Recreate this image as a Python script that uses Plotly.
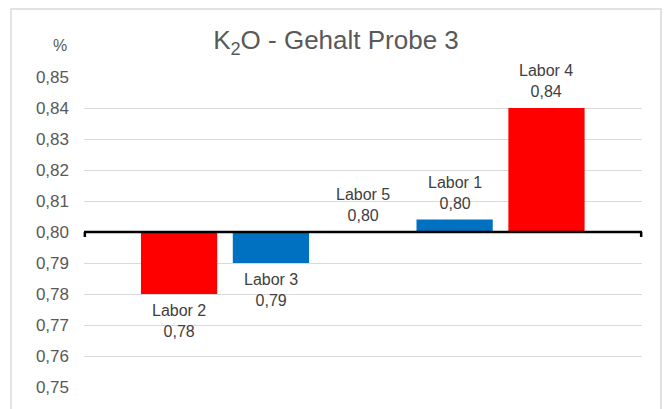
import plotly.graph_objects as go

labs = ["Labor 2", "Labor 3", "Labor 5", "Labor 1", "Labor 4"]
values = [0.78, 0.79, 0.80, 0.804, 0.84]
bar_colors = ["#FF0000", "#0070C0", "#0070C0", "#0070C0", "#FF0000"]
reference = 0.80
y_ticks = [0.75, 0.76, 0.77, 0.78, 0.79, 0.80, 0.81, 0.82, 0.83, 0.84, 0.85]

FONT = "Liberation Sans, Arial, sans-serif"
W, H = 664, 409

fig = go.Figure()
fig.add_trace(go.Bar(
    x=labs,
    y=[v - reference for v in values],
    base=reference,
    marker=dict(color=bar_colors, line=dict(width=0)),
    width=0.83,
    hoverinfo="skip",
))

annotations = []
for lab, v in zip(labs, values):
    txt = f"{lab}<br>{v:.2f}".replace(".", ",")
    above = v >= reference
    annotations.append(dict(x=lab, y=v, xref="x", yref="y", text=txt, showarrow=False,
                            yanchor="bottom" if above else "top",
                            yshift=6 if above else -6, align="center",
                            font=dict(family=FONT, size=16, color="#404040")))

annotations.append(dict(x=-0.043, y=1.1016, xref="paper", yref="paper", text="%", showarrow=False,
                        xanchor="center", yanchor="middle",
                        font=dict(family=FONT, size=16, color="#595959")))

shapes = [
    # chart border
    dict(type="rect", xref="paper", yref="paper", x0=-0.1308, x1=1.034, y0=-0.3, y1=1.219,
         line=dict(color="#d9d9d9", width=1.5), fillcolor="rgba(0,0,0,0)", layer="below"),
    # reference axis line
    dict(type="line", xref="paper", yref="y", x0=0, x1=1, y0=reference, y1=reference,
         line=dict(color="#000000", width=2.5)),
    dict(type="line", xref="paper", yref="y", x0=0.0015, x1=0.0015, y0=reference, y1=reference - 0.0016,
         line=dict(color="#000000", width=2.5)),
    dict(type="line", xref="paper", yref="y", x0=0.9985, x1=0.9985, y0=reference, y1=reference - 0.0016,
         line=dict(color="#000000", width=2.5)),
]

fig.update_layout(
    width=W, height=H,
    margin=dict(l=84, r=22, t=77, b=17),
    paper_bgcolor="white", plot_bgcolor="white",
    separators=",.",
    showlegend=False,
    hovermode=False,
    title=dict(text="K<sub>2</sub>O - Gehalt Probe 3", x=336 / W, xanchor="center",
               y=1 - 40 / H, yanchor="middle",
               font=dict(family=FONT, size=26, color="#595959")),
    xaxis=dict(range=[-1.035, 5.04], showticklabels=False, showgrid=False, zeroline=False,
               showline=False, ticks=""),
    yaxis=dict(range=[0.75, 0.85], tickvals=y_ticks, tickformat=".2f",
               showgrid=True, gridcolor="#d9d9d9", gridwidth=1, zeroline=False, showline=False,
               ticks="", ticklabelstandoff=14,
               tickfont=dict(family=FONT, size=17, color="#595959")),
    annotations=annotations,
    shapes=shapes,
)

fig.write_html(
    "out.html",
    config={"displayModeBar": False},
    post_script="document.body.style.margin='0';document.body.style.overflow='hidden';",
)
